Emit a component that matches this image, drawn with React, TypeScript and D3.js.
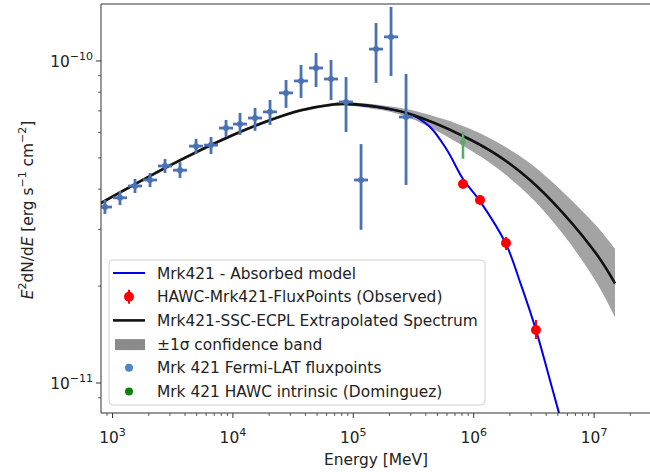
import React from "react";
import * as d3 from "d3";

// ---------- data ----------
// Fermi-LAT flux points (energy MeV, E^2 dN/dE erg s^-1 cm^-2)
const fermiE = [866, 1154, 1538, 2049, 2730, 3637, 4942, 6582, 8769, 11460, 15270, 20340, 27630, 36810, 49040, 65330, 87040, 115960, 154500, 205800, 274200];
const fermiELo = [758, 1010, 1346, 1793, 2388, 3182, 4324, 5759, 7672, 10026, 13360, 17795, 24173, 32205, 42905, 57157, 76150, 101452, 135171, 180052, 239895];
const fermiEHi = [990, 1319, 1758, 2342, 3120, 4157, 5649, 7523, 10023, 13099, 17454, 23249, 31581, 42074, 56053, 74672, 99487, 132542, 176594, 235229, 313411];
const fermiF = [3.52e-11, 3.76e-11, 4.09e-11, 4.27e-11, 4.72e-11, 4.58e-11, 5.44e-11, 5.48e-11, 6.19e-11, 6.37e-11, 6.65e-11, 6.95e-11, 7.96e-11, 8.67e-11, 9.51e-11, 8.79e-11, 7.46e-11, 4.27e-11, 1.089e-10, 1.188e-10, 6.70e-11];
const fermiFLo = [3.35e-11, 3.57e-11, 3.89e-11, 4.06e-11, 4.49e-11, 4.33e-11, 5.14e-11, 5.14e-11, 5.81e-11, 5.89e-11, 6.07e-11, 6.33e-11, 7.15e-11, 7.67e-11, 8.30e-11, 7.57e-11, 6.02e-11, 2.99e-11, 8.55e-11, 8.98e-11, 4.12e-11];
const fermiFHi = [3.70e-11, 3.95e-11, 4.30e-11, 4.49e-11, 4.96e-11, 4.85e-11, 5.73e-11, 5.81e-11, 6.56e-11, 6.90e-11, 7.15e-11, 7.57e-11, 8.73e-11, 9.72e-11, 1.059e-10, 1.007e-10, 8.92e-11, 5.52e-11, 1.312e-10, 1.472e-10, 9.11e-11];

// HAWC observed flux points
const hawcE = [8.15e5, 1.128e6, 1.855e6, 3.29e6];
const hawcF = [4.15e-11, 3.70e-11, 2.72e-11, 1.46e-11];
const hawcFLo = [4.05e-11, 3.62e-11, 2.59e-11, 1.37e-11];
const hawcFHi = [4.25e-11, 3.78e-11, 2.84e-11, 1.57e-11];

// HAWC intrinsic (Dominguez)
const intrE = [8.15e5];
const intrF = [5.48e-11];
const intrFLo = [4.97e-11];
const intrFHi = [6.02e-11];

// SSC-ECPL extrapolated spectrum + 1 sigma band
const modelE = [800, 1480, 2836, 5329, 10020, 19200, 36080, 67810, 85330, 166700, 295800, 815200, 1.561e6, 2.935e6, 5.515e6, 1.057e7, 1.492e7];
const modelF = [3.62e-11, 4.11e-11, 4.69e-11, 5.28e-11, 5.89e-11, 6.50e-11, 7.02e-11, 7.33e-11, 7.36e-11, 7.18e-11, 6.84e-11, 5.85e-11, 5.11e-11, 4.27e-11, 3.37e-11, 2.50e-11, 2.04e-11];
const bandLo = [3.58e-11, 4.07e-11, 4.63e-11, 5.22e-11, 5.83e-11, 6.43e-11, 6.94e-11, 7.25e-11, 7.28e-11, 7.05e-11, 6.65e-11, 5.45e-11, 4.65e-11, 3.80e-11, 2.90e-11, 2.04e-11, 1.60e-11];
const bandHi = [3.66e-11, 4.16e-11, 4.74e-11, 5.34e-11, 5.95e-11, 6.57e-11, 7.09e-11, 7.41e-11, 7.44e-11, 7.30e-11, 7.05e-11, 6.28e-11, 5.60e-11, 4.81e-11, 3.92e-11, 3.06e-11, 2.61e-11];

// Absorbed model
const absE = [85330, 166700, 295800, 433500, 600000, 815200, 1.128e6, 1.855e6, 2.424e6, 3.292e6, 4.30e6, 5.11e6, 5.845e6];
const absF = [7.35e-11, 7.17e-11, 6.84e-11, 6.24e-11, 5.29e-11, 4.30e-11, 3.67e-11, 2.70e-11, 2.06e-11, 1.46e-11, 1.02e-11, 8.07e-12, 6.65e-12];

const xTickExps = [3, 4, 5, 6, 7];
const yTickExps = [-10, -11];

const legendLabels = [
  "Mrk421 - Absorbed model",
  "HAWC-Mrk421-FluxPoints (Observed)",
  "Mrk421-SSC-ECPL Extrapolated Spectrum",
  "±1σ confidence band",
  "Mrk 421 Fermi-LAT fluxpoints",
  "Mrk 421 HAWC intrinsic (Dominguez)",
];

// ---------- layout ----------
const W = 650, H = 472;
const L = 101, R = 650, T = 4, B = 413;
const FONT = "DejaVu Sans, sans-serif";
const FS = 15.4;
const SUP = 11;

export default function App() {
  const x = d3.scaleLog().domain([802.6, 2.913e7]).range([L, R]);
  const y = d3.scaleLog().domain([8.07e-12, 1.503e-10]).range([B, T]);

  const line = d3.line<[number, number]>().x(d => x(d[0])).y(d => y(d[1])).curve(d3.curveCatmullRom.alpha(0.5));
  const area = d3.area<number>()
    .x((_, i) => x(modelE[i]))
    .y0((_, i) => y(bandLo[i]))
    .y1((_, i) => y(bandHi[i]))
    .curve(d3.curveCatmullRom.alpha(0.5));

  const modelPts = modelE.map((e, i) => [e, modelF[i]] as [number, number]);
  const absPts = absE.map((e, i) => [e, absF[i]] as [number, number]);

  const xMinor: number[] = [];
  for (let k = 2; k <= 7; k++) for (let m = 2; m <= 9; m++) {
    const v = m * Math.pow(10, k);
    const [a, b] = x.domain();
    if (v > a && v < b) xMinor.push(v);
  }
  const yMinor: number[] = [];
  for (let k = -12; k <= -11; k++) for (let m = 2; m <= 9; m++) {
    const v = m * Math.pow(10, k);
    const [a, b] = y.domain();
    if (v > a && v < b) yMinor.push(v);
  }

  const fermiCol = "#4a72b2";
  const legRowY = (i: number) => 273 + i * 23.7;

  return (
    <svg width={W} height={H} style={{ display: "block", position: "absolute", left: 0, top: 0 }} fontFamily={FONT}>
      <rect width={W} height={H} fill="#fff" />
      <defs>
        <clipPath id="plotclip"><rect x={L} y={T} width={R - L} height={B - T} /></clipPath>
      </defs>
      <g clipPath="url(#plotclip)">
        <path d={area(modelE) || ""} fill="#a3a3a3" />
        <path d={line(absPts) || ""} fill="none" stroke="#0000ee" strokeWidth={2} />
        <path d={line(modelPts) || ""} fill="none" stroke="#111" strokeWidth={2.6} />
        {/* Fermi points */}
        {fermiE.map((e, i) => (
          <g key={"f" + i} stroke={fermiCol} strokeWidth={2.8}>
            <line x1={x(e)} x2={x(e)} y1={y(fermiFLo[i])} y2={y(fermiFHi[i])} />
            <line x1={x(fermiELo[i])} x2={x(fermiEHi[i])} y1={y(fermiF[i])} y2={y(fermiF[i])} />
            <circle cx={x(e)} cy={y(fermiF[i])} r={3} fill={fermiCol} stroke="none" />
          </g>
        ))}
        {/* HAWC intrinsic */}
        {intrE.map((e, i) => (
          <g key={"g" + i} stroke="#5aab6a" strokeWidth={2.6}>
            <line x1={x(e)} x2={x(e)} y1={y(intrFLo[i])} y2={y(intrFHi[i])} />
            <circle cx={x(e)} cy={y(intrF[i]) - 3} r={2.8} fill="#5aab6a" stroke="none" />
          </g>
        ))}
        {/* HAWC observed */}
        {hawcE.map((e, i) => (
          <g key={"h" + i} stroke="#ff0000" strokeWidth={2}>
            <line x1={x(e)} x2={x(e)} y1={y(hawcFLo[i])} y2={y(hawcFHi[i])} />
            <circle cx={x(e)} cy={y(hawcF[i])} r={5} fill="#ff0000" stroke="none" />
          </g>
        ))}
      </g>

      {/* spines */}
      <line x1={L} x2={R} y1={T} y2={T} stroke="#333" strokeWidth={1} />
      <line x1={L} x2={L} y1={T} y2={B} stroke="#333" strokeWidth={1} />
      <line x1={L} x2={R} y1={B} y2={B} stroke="#333" strokeWidth={1} />

      {/* x ticks */}
      {xTickExps.map(k => {
        const px = x(Math.pow(10, k));
        return (
          <g key={"xt" + k}>
            <line x1={px} x2={px} y1={B} y2={B + 5} stroke="#333" />
            <text x={px} y={443} textAnchor="middle" fontSize={FS} fill="#222">
              10<tspan dy={-7} fontSize={SUP}>{k}</tspan>
            </text>
          </g>
        );
      })}
      {xMinor.map((v, i) => (
        <line key={"xm" + i} x1={x(v)} x2={x(v)} y1={B} y2={B + 3} stroke="#333" strokeWidth={0.8} />
      ))}

      {/* y ticks */}
      {yTickExps.map(k => {
        const py = y(Math.pow(10, k));
        return (
          <g key={"yt" + k}>
            <line x1={L - 5} x2={L} y1={py} y2={py} stroke="#333" />
            <text x={L - 8} y={py + 6} textAnchor="end" fontSize={FS} fill="#222">
              10<tspan dy={-7} fontSize={SUP}>{"\u2212" + Math.abs(k)}</tspan>
            </text>
          </g>
        );
      })}
      {yMinor.map((v, i) => (
        <line key={"ym" + i} x1={L - 3} x2={L} y1={y(v)} y2={y(v)} stroke="#333" strokeWidth={0.8} />
      ))}

      {/* axis labels */}
      <text x={376} y={465} textAnchor="middle" fontSize={FS} fill="#222">Energy [MeV]</text>
      <text transform="translate(33,210) rotate(-90)" textAnchor="middle" fontSize={FS} fill="#222">
        <tspan fontStyle="italic">E</tspan>
        <tspan dy={-7} fontSize={SUP}>2</tspan>
        <tspan dy={7}>dN/d</tspan>
        <tspan fontStyle="italic">E</tspan>
        <tspan> [erg s</tspan>
        <tspan dy={-7} fontSize={SUP}>{"\u22121"}</tspan>
        <tspan dy={7}> cm</tspan>
        <tspan dy={-7} fontSize={SUP}>{"\u22122"}</tspan>
        <tspan dy={7}>]</tspan>
      </text>

      {/* legend */}
      <g>
        <rect x={109} y={260} width={376} height={145} rx={4} fill="#fff" fillOpacity={0.85} stroke="#d0d0d0" />
        <line x1={113} x2={145} y1={legRowY(0)} y2={legRowY(0)} stroke="#0000ee" strokeWidth={2} />
        <line x1={129} x2={129} y1={legRowY(1) - 7} y2={legRowY(1) + 7} stroke="#ff0000" strokeWidth={2} />
        <circle cx={129} cy={legRowY(1)} r={5} fill="#ff0000" />
        <line x1={113} x2={145} y1={legRowY(2)} y2={legRowY(2)} stroke="#111" strokeWidth={2.6} />
        <rect x={115} y={legRowY(3) - 5} width={30} height={11} fill="#8a8a8a" />
        <circle cx={129} cy={legRowY(4)} r={4} fill="#4f86c2" />
        <circle cx={129} cy={legRowY(5)} r={4} fill="#0b800b" />
        {legendLabels.map((t, i) => (
          <text key={"lg" + i} x={157} y={legRowY(i) + 5.5} fontSize={FS} fill="#222">{t}</text>
        ))}
      </g>
    </svg>
  );
}
